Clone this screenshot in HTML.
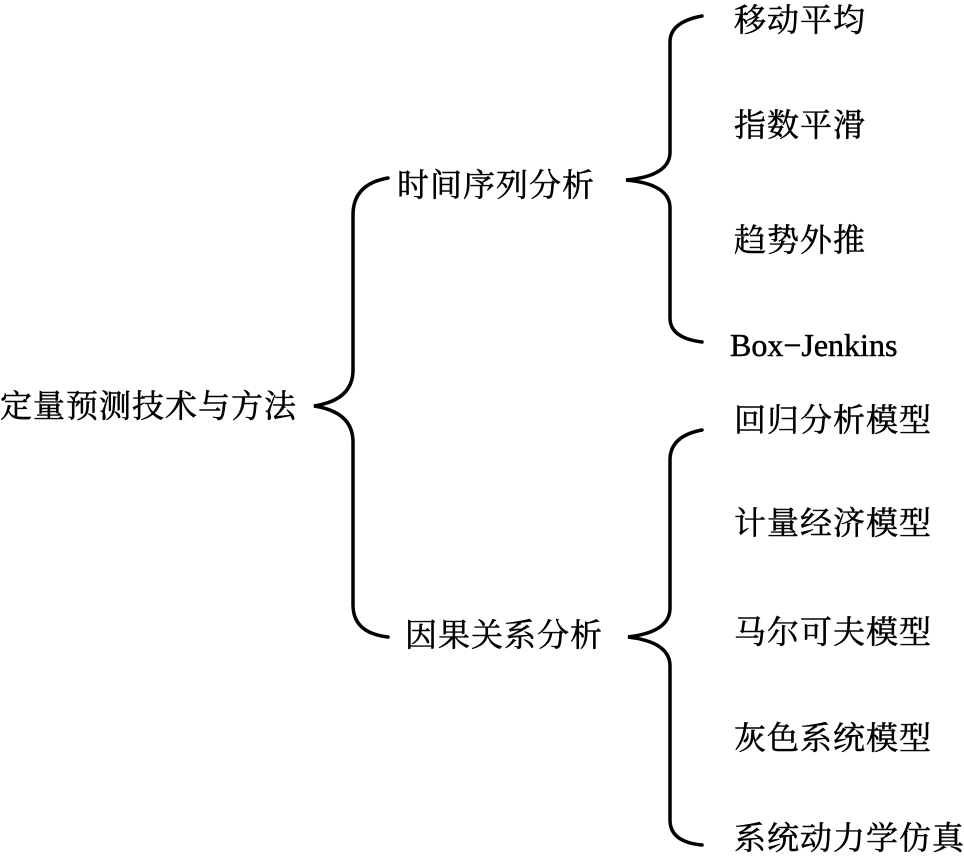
<!DOCTYPE html>
<html><head><meta charset="utf-8"><style>
html,body{margin:0;padding:0;background:#fff;width:964px;height:859px;overflow:hidden;position:relative}
.t{position:absolute;font-family:"Liberation Serif","Noto Serif CJK SC",serif;font-size:32px;line-height:40px;height:40px;color:#000;white-space:nowrap;letter-spacing:1px;-webkit-text-stroke:0.5px #000}
svg{position:absolute;left:0;top:0}
</style></head><body>
<svg width="964" height="859" viewBox="0 0 964 859">
<g fill="none" stroke="#000" stroke-width="3.5" stroke-linecap="round">
<path d="M388,178 Q353,184 353,215 L353,370 Q353,400 314,406 Q353,412 353,442 L353,605 Q353,633 388,637"/>
<path d="M702,16 Q670,22 670,42 L670,152 Q670,176 626,180 Q670,184 670,208 L670,318 Q670,338 702,342"/>
<path d="M702,430 Q670,436 670,460 L670,608 Q670,632 628,637 Q670,642 670,666 L670,820 Q670,842 702,845"/>
</g>
</svg>
<div class="t" style="left:0;top:386px">定量预测技术与方法</div>
<div class="t" style="left:397px;top:165px">时间序列分析</div>
<div class="t" style="left:405px;top:615px">因果关系分析</div>
<div class="t" style="left:734px;top:0px">移动平均</div>
<div class="t" style="left:734px;top:105px">指数平滑</div>
<div class="t" style="left:734px;top:220px">趋势外推</div>
<div class="t" style="left:730px;top:325px;font-size:32px;letter-spacing:0">Box−Jenkins</div>
<div class="t" style="left:734px;top:400px">回归分析模型</div>
<div class="t" style="left:734px;top:503px">计量经济模型</div>
<div class="t" style="left:734px;top:612px">马尔可夫模型</div>
<div class="t" style="left:734px;top:718px">灰色系统模型</div>
<div class="t" style="left:734px;top:818px">系统动力学仿真</div>
</body></html>
